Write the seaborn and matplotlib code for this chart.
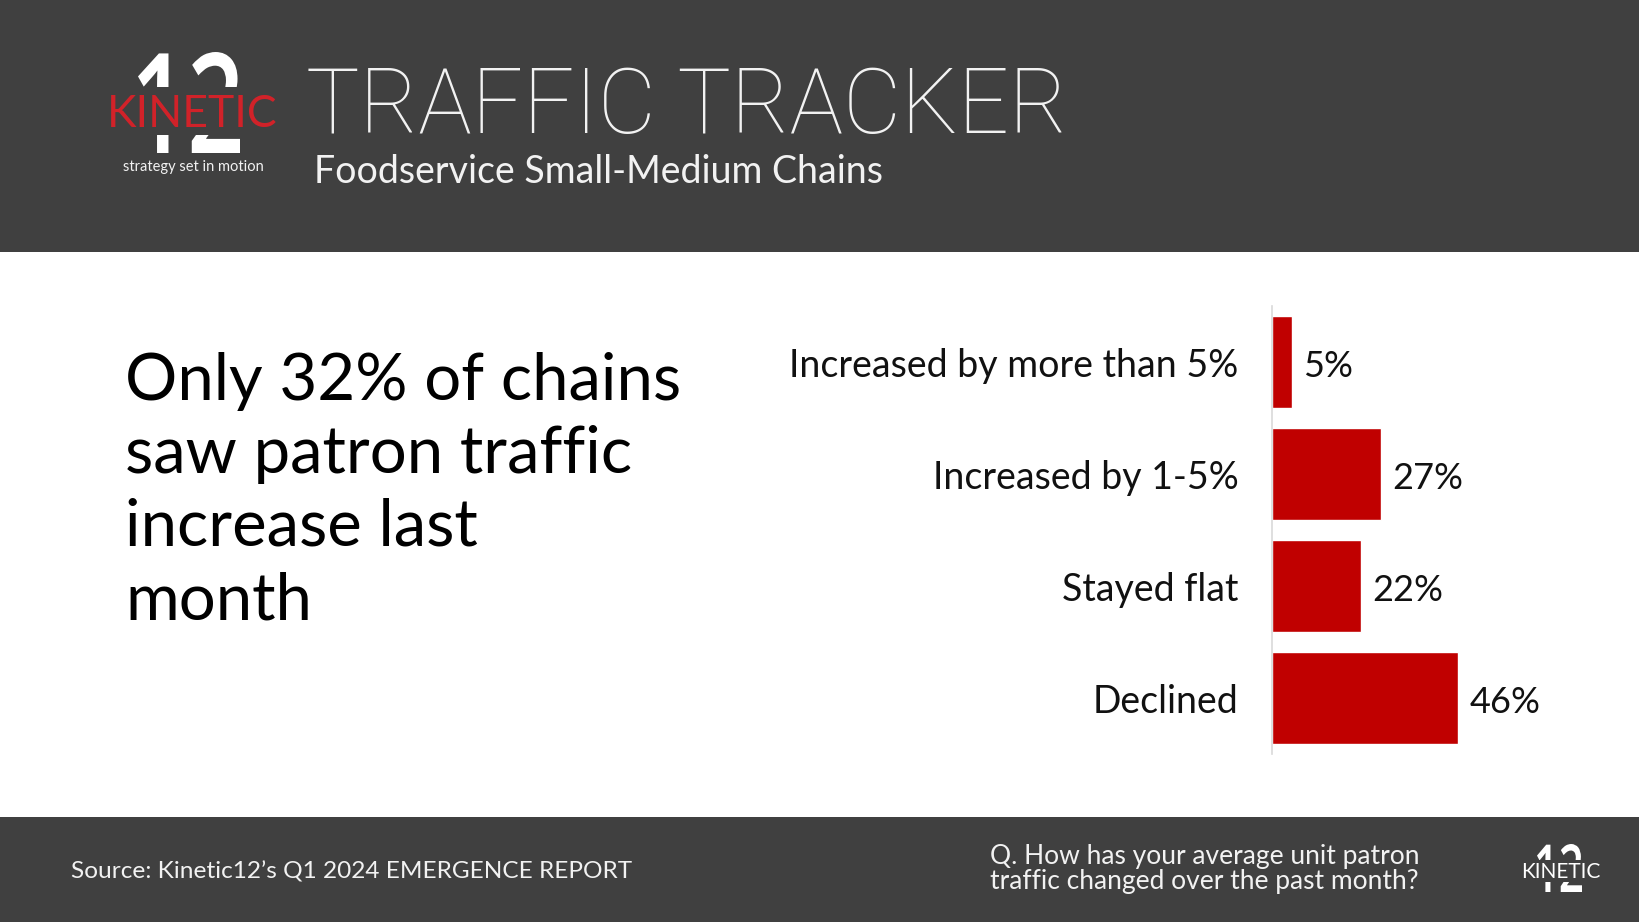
import matplotlib
matplotlib.use("Agg")
import matplotlib.pyplot as plt
import seaborn as sns
import pandas as pd
from matplotlib.patches import Rectangle, PathPatch
from matplotlib.textpath import TextPath
from matplotlib.font_manager import FontProperties
from matplotlib.transforms import Affine2D

# ---- data ----
categories = ["Increased by more than 5%", "Increased by 1-5%", "Stayed flat", "Declined"]
values = [5, 27, 22, 46]
value_labels = ["5%", "27%", "22%", "46%"]

title = "TRAFFIC TRACKER"
subtitle = "Foodservice Small-Medium Chains"
headline_lines = ["Only 32% of chains", "saw patron traffic", "increase last", "month"]
source_text = "Source: Kinetic12\u2019s Q1 2024 EMERGENCE REPORT"
question_lines = ["Q. How has your average unit patron", "traffic changed over the past month?"]

W, H = 1640, 922
DARK = "#404040"
BAR_RED = "#C00000"
LOGO_RED = "#D12229"
FONT = ["Lato", "DejaVu Sans"]

sns.set_theme(style="white")
plt.rcParams["font.family"] = FONT

fig = plt.figure(figsize=(W / 100, H / 100), dpi=100)
fig.patch.set_facecolor("white")


def fx(x):
    return x / W


def fy(y):
    return 1 - y / H


def fit_text_path(s, x0, y0, x1, y1, color, family="Open Sans", weight="semibold", zorder=1):
    """Draw text s as a path stretched to fit pixel box (x0,y0)-(x1,y1), y from top."""
    tp = TextPath((0, 0), s, size=100, prop=FontProperties(family=family, weight=weight))
    bb = tp.get_extents()
    tr = (Affine2D()
          .translate(-bb.x0, -bb.y0)
          .scale((x1 - x0) / bb.width / W, (y1 - y0) / bb.height / H)
          .translate(fx(x0), fy(y1))
          + fig.transFigure)
    fig.patches.append(PathPatch(tp, transform=tr, facecolor=color, edgecolor="none",
                                 zorder=zorder))


# header / footer bands
fig.patches.append(Rectangle((0, fy(252)), 1, 252 / H, transform=fig.transFigure,
                             facecolor=DARK, edgecolor="none", zorder=0))
fig.patches.append(Rectangle((0, 0), 1, (H - 817) / H, transform=fig.transFigure,
                             facecolor=DARK, edgecolor="none", zorder=0))

# ---- bar chart ----
df = pd.DataFrame({"category": categories, "value": values})
ax = fig.add_axes([fx(1272), fy(754), fx(202.5), (754 - 306) / H])
sns.barplot(data=df, y="category", x="value", orient="h", color=BAR_RED,
            saturation=1, width=0.83, ax=ax)
ax.set_xlim(0, 50)
ax.set_ylim(3.5, -0.5)
ax.set_facecolor("none")
for s in ["top", "right", "bottom"]:
    ax.spines[s].set_visible(False)
ax.spines["left"].set_color("#D9D9D9")
ax.spines["left"].set_linewidth(1.2)
ax.set_xticks([])
ax.set_xlabel("")
ax.set_ylabel("")
ax.tick_params(axis="y", length=0, pad=24, labelsize=27, labelcolor="#111111")
for lab in ax.get_yticklabels():
    lab.set_fontfamily(FONT)
texts = ax.bar_label(ax.containers[0], labels=value_labels, padding=8, fontsize=26,
                     color="#111111", family=FONT)
for t in texts:
    t.set_y(t.get_position()[1] - 3)

# ---- header texts ----
fig.text(fx(306), fy(133), title, color="#F2F2F2", fontsize=64.5,
         family=["Roboto", "Lato", "DejaVu Sans"], fontweight="light",
         va="baseline", ha="left")
fig.text(fx(314), fy(183), subtitle, color="#F2F2F2", fontsize=27,
         va="baseline", ha="left")

# logo (top-left)
fit_text_path("12", 138, 52, 240, 153, "white")
fig.patches.append(Rectangle((fx(105), fy(135)), fx(180), 48 / H, transform=fig.transFigure,
                             facecolor=DARK, edgecolor="none", zorder=2))
fig.text(fx(192), fy(127), "KINETIC", color=LOGO_RED, fontsize=32, ha="center",
         va="baseline", zorder=3)
fig.text(fx(193), fy(171), "strategy set in motion", color="#F2F2F2", fontsize=10.5,
         ha="center", va="baseline")

# ---- headline ----
for i, line in enumerate(headline_lines):
    fig.text(fx(125), fy(399.5 + i * 73.2), line, color="black", fontsize=47,
             ha="left", va="baseline")

# ---- footer ----
fig.text(fx(71), fy(878), source_text, color="#F2F2F2", fontsize=17.6, ha="left",
         va="baseline")
for i, line in enumerate(question_lines):
    fig.text(fx(990), fy(864 + i * 25), line, color="#F2F2F2", fontsize=19,
             ha="left", va="baseline")

# small logo bottom-right
fit_text_path("12", 1537, 844, 1582, 892, "white")
fig.patches.append(Rectangle((fx(1520), fy(882)), fx(85), 22 / H, transform=fig.transFigure,
                             facecolor=DARK, edgecolor="none", zorder=2))
fig.text(fx(1561), fy(878), "KINETIC", color="white", fontsize=15, ha="center",
         va="baseline", zorder=3)

fig.savefig("out.png", dpi=100, facecolor=fig.get_facecolor())
